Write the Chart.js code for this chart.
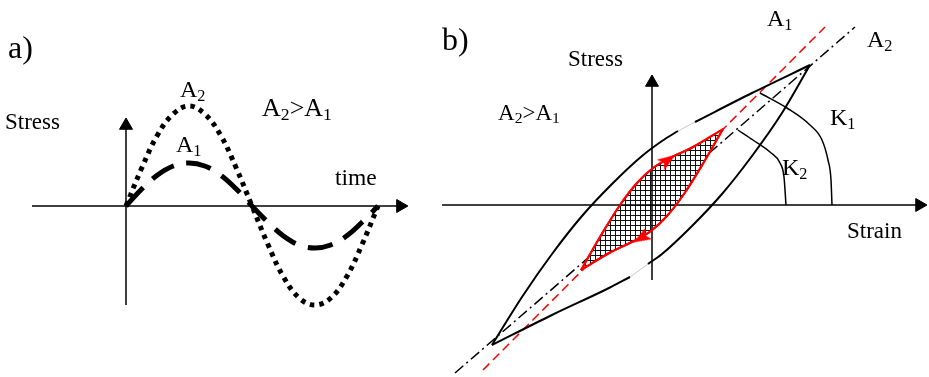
<!DOCTYPE html>
<html>
<head>
<meta charset="utf-8">
<script src="https://cdn.jsdelivr.net/npm/chart.js@4.4.0/dist/chart.umd.min.js"></script>
<style>
html, body { margin: 0; padding: 0; background: #fff; }
#wrap { position: relative; width: 929px; height: 377px; overflow: hidden;
        font-family: "Liberation Serif", "Times New Roman", serif; color: #000; }
canvas { position: absolute; top: 0; }
#ca { left: 0; }
#cb { left: 440px; }
.t { position: absolute; line-height: 1; white-space: nowrap; }
.t sub { font-size: 0.68em; vertical-align: -0.22em; line-height: 0; }
</style>
</head>
<body>
<div id="wrap">
  <canvas id="ca" width="440" height="377"></canvas>
  <canvas id="cb" width="489" height="377"></canvas>

  <!-- a) -->
  <div class="t" style="left:8px;top:31px;font-size:32px">a)</div>
  <div class="t" style="left:5px;top:110px;font-size:23px">Stress</div>
  <div class="t" style="left:180px;top:77px;font-size:24px">A<sub>2</sub></div>
  <div class="t" style="left:176px;top:132px;font-size:24px">A<sub>1</sub></div>
  <div class="t" style="left:262px;top:95px;font-size:26px">A<sub>2</sub>&gt;A<sub>1</sub></div>
  <div class="t" style="left:335px;top:166px;font-size:23.5px">time</div>

  <!-- b) -->
  <div class="t" style="left:442px;top:23px;font-size:32px">b)</div>
  <div class="t" style="left:568px;top:47px;font-size:23px">Stress</div>
  <div class="t" style="left:498px;top:101px;font-size:23px">A<sub>2</sub>&gt;A<sub>1</sub></div>
  <div class="t" style="left:767px;top:6px;font-size:24px">A<sub>1</sub></div>
  <div class="t" style="left:867px;top:27px;font-size:24px">A<sub>2</sub></div>
  <div class="t" style="left:830px;top:105px;font-size:24px">K<sub>1</sub></div>
  <div class="t" style="left:782px;top:155px;font-size:24px">K<sub>2</sub></div>
  <div class="t" style="left:847px;top:219px;font-size:23px">Strain</div>
</div>

<script>
// ---- a) stress vs time (one period = 1) ----
const timeA    = [0, 0.0625, 0.125, 0.1875, 0.25, 0.3125, 0.375, 0.4375, 0.5, 0.5625, 0.625, 0.6875, 0.75, 0.8125, 0.875, 0.9375, 1];
const stressA2 = [0, 0.38, 0.71, 0.92, 1.00, 0.92, 0.71, 0.38, 0, -0.38, -0.71, -0.92, -0.99, -0.92, -0.71, -0.38, 0];
const stressA1 = [0, 0.17, 0.31, 0.40, 0.43, 0.40, 0.31, 0.17, 0, -0.16, -0.30, -0.39, -0.42, -0.39, -0.30, -0.16, 0];
const axisTimeA   = [[-0.373, 0], [1.089, 0]];
const axisStressA = [[0, -0.99], [0, 0.805]];

// ---- b) stress vs strain (hysteresis loops) ----
const outerUpper1 = [[-1.60, -1.40], [-1.30, -0.92], [-1.00, -0.49], [-0.70, -0.11], [-0.40, 0.21], [-0.10, 0.49], [0.10, 0.64], [0.26, 0.74]];
const outerUpper2 = [[0.43, 0.83], [1.00, 1.12], [1.58, 1.40]];
const outerLower1 = [[-1.60, -1.40], [-1.00, -1.10], [-0.43, -0.83], [-0.22, -0.72]];
const outerLower2 = [[-0.04, -0.59], [0.10, -0.49], [0.40, -0.21], [0.70, 0.11], [1.00, 0.49], [1.30, 0.92], [1.58, 1.40]];
const gapUpper = [[0.26, 0.74], [0.43, 0.83]];
const gapLower = [[-0.22, -0.72], [-0.04, -0.59]];
const innerUpper  = [[-0.71, -0.65], [-0.52, -0.32], [-0.32, 0], [-0.15, 0.22], [0.01, 0.37], [0.18, 0.47], [0.41, 0.58], [0.71, 0.76]];
const innerLower  = [[-0.71, -0.65], [-0.41, -0.47], [-0.18, -0.36], [-0.01, -0.26], [0.15, -0.11], [0.32, 0.11], [0.52, 0.43], [0.71, 0.76]];
const innerArrows = [[0.16, 0.45], [-0.11, -0.33]];
const arrowAngles = [56, 240];
const slopeA1 = [[-1.69, -1.65], [1.73, 1.78]];
const slopeA2 = [[-1.97, -1.68], [2.03, 1.78]];
const arcK1 = [[1.08, 1.12], [1.35, 0.97], [1.58, 0.80], [1.70, 0.65], [1.76, 0.45], [1.79, 0.25], [1.80, 0]];
const arcK2 = [[0.86, 0.75], [1.01, 0.65], [1.18, 0.53], [1.28, 0.42], [1.32, 0.28], [1.34, 0]];
const axisStrainB = [[-2.10, 0], [2.675, 0]];
const axisStressB = [[0, -0.75], [0, 1.225]];

const pts = arr => arr.map(p => ({x: p[0], y: p[1]}));

// 축 끝 화살표 (삼각형 포인트)
function arrowSet(arr, rot, color, r){
    return { data: pts(arr), showLine: false, pointStyle: 'triangle', pointRadius: r,
             pointRotation: rot, pointBackgroundColor: color, pointBorderColor: color,
             pointBorderWidth: 1, clip: false };
}
function lineSet(arr, opt){
    return Object.assign({ data: pts(arr), borderColor: '#000', borderWidth: 1.5,
                           pointRadius: 0, fill: false, tension: 0, clip: false }, opt || {});
}
// 먼저 쓴 dataset이 아래에 그려지도록 order 지정
function stacked(sets){
    sets.forEach((d, i) => { d.order = sets.length - i; });
    return sets;
}

// 위쪽을 향하는 길쭉한 화살촉 이미지 (pointRotation으로 회전)
function arrowHead(color){
    const c = document.createElement('canvas');
    c.width = 20; c.height = 20;
    const g = c.getContext('2d');
    g.fillStyle = color;
    g.beginPath(); g.moveTo(10, 1); g.lineTo(16.5, 19); g.lineTo(10, 15); g.lineTo(3.5, 19); g.closePath();
    g.fill();
    return c;
}

function baseOptions(xmin, xmax, ymin, ymax){
    return {
        responsive: false, animation: false, events: [],
        layout: { padding: 0, autoPadding: false },
        plugins: { legend: { display: false }, tooltip: { enabled: false } },
        scales: {
            x: { type: 'linear', display: false, min: xmin, max: xmax },
            y: { type: 'linear', display: false, min: ymin, max: ymax }
        }
    };
}

// ---- chart a ----
new Chart(document.getElementById('ca').getContext('2d'), {
    type: 'line',
    data: { datasets: stacked([
        lineSet(axisTimeA),
        lineSet(axisStressA),
        arrowSet([axisTimeA[1]], 90, '#000', 7.5),
        arrowSet([axisStressA[1]], 0, '#000', 7.5),
        lineSet(timeA.map((t, i) => [t, stressA2[i]]), { borderWidth: 5, borderDash: [4.5, 5], tension: 0.4 }),
        lineSet(timeA.map((t, i) => [t, stressA1[i]]), { borderWidth: 5, borderDash: [25, 13], tension: 0.4 })
    ])},
    options: baseOptions(-0.5, 1.246, -1.71, 2.06)
});

// ---- chart b ----
const pc = document.createElement('canvas');
pc.width = 5; pc.height = 5;
const pg = pc.getContext('2d');
pg.fillStyle = '#fff'; pg.fillRect(0, 0, 5, 5);
pg.fillStyle = '#111'; pg.fillRect(0, 0, 5, 1); pg.fillRect(0, 0, 1, 5);
const hatch = pg.createPattern(pc, 'repeat');

const red = '#ff0000';
new Chart(document.getElementById('cb').getContext('2d'), {
    type: 'line',
    data: { datasets: stacked([
        lineSet(slopeA2, { borderDash: [11, 4, 2, 4] }),
        lineSet(slopeA1, { borderColor: red, borderDash: [9, 5] }),
        lineSet(innerUpper, { borderColor: red, borderWidth: 2, cubicInterpolationMode: 'monotone',
                              fill: '+1', backgroundColor: hatch }),
        lineSet(innerLower, { borderColor: red, borderWidth: 2, cubicInterpolationMode: 'monotone' }),
        lineSet(axisStrainB),
        lineSet(axisStressB),
        arrowSet([axisStrainB[1]], 90, '#000', 7.5),
        arrowSet([axisStressB[1]], 0, '#000', 7.5),
        lineSet(gapUpper, { borderColor: '#c8c8c8', borderWidth: 1 }),
        lineSet(gapLower, { borderColor: '#c8c8c8', borderWidth: 1 }),
        lineSet(outerUpper1, { borderWidth: 2, cubicInterpolationMode: 'monotone' }),
        lineSet(outerUpper2, { borderWidth: 2, cubicInterpolationMode: 'monotone' }),
        lineSet(outerLower1, { borderWidth: 2, cubicInterpolationMode: 'monotone' }),
        lineSet(outerLower2, { borderWidth: 2, cubicInterpolationMode: 'monotone' }),
        lineSet(arcK1, { cubicInterpolationMode: 'monotone' }),
        lineSet(arcK2, { cubicInterpolationMode: 'monotone' }),
        lineSet(innerUpper, { borderColor: red, borderWidth: 2, cubicInterpolationMode: 'monotone' }),
        lineSet(innerLower, { borderColor: red, borderWidth: 2, cubicInterpolationMode: 'monotone' }),
        { data: pts(innerArrows), showLine: false, pointStyle: arrowHead(red), pointRotation: arrowAngles,
          pointRadius: 10, clip: false }
    ])},
    options: baseOptions(-2.12, 2.77, -1.72, 2.05)
});
</script>
</body>
</html>
